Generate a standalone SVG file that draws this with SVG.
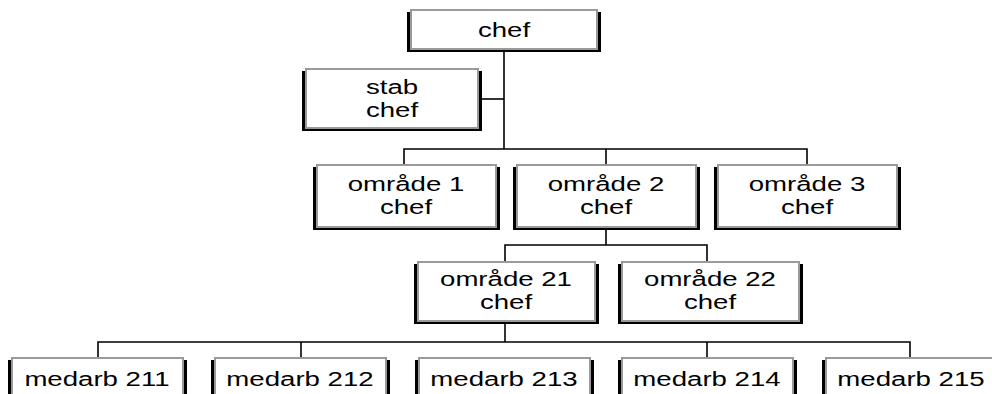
<svg xmlns="http://www.w3.org/2000/svg" width="992" height="394" viewBox="0 0 992 394">
  <style>
    .shadow { fill: #000; }
    .face { fill: #fff; stroke: #9a9a9a; stroke-width: 2; }
    .label { font-family: "Liberation Sans", Arial, sans-serif; font-size: 20px; fill: #000; text-anchor: middle; }
    .wire { fill: none; stroke: #000; stroke-width: 1.6; }
  </style>

  <!-- connectors -->
  <g id="connectors">
    <path class="wire" d="M504 50 V149"/>
    <path class="wire" d="M482 99 H504"/>
    <path class="wire" d="M404 165 V149 H807 V165"/>
    <path class="wire" d="M606 149 V165"/>
    <path class="wire" d="M606 227 V245"/>
    <path class="wire" d="M505 262 V245 H707 V262"/>
    <path class="wire" d="M505 322 V342"/>
    <path class="wire" d="M98 358 V342 H910 V358"/>
    <path class="wire" d="M301 342 V358"/>
    <path class="wire" d="M707 342 V358"/>
  </g>

  <g id="chef">
    <rect class="shadow" x="407" y="12" width="194" height="40"/>
    <rect class="face" x="411" y="10" width="186" height="39"/>
    <text class="label" transform="translate(504 37) scale(1.38 1)">chef</text>
  </g>

  <g id="stab-chef">
    <rect class="shadow" x="302" y="71" width="180" height="60"/>
    <rect class="face" x="306" y="69" width="172" height="59"/>
    <text class="label" transform="translate(392 94) scale(1.38 1)">stab</text>
    <text class="label" transform="translate(392 117) scale(1.38 1)">chef</text>
  </g>

  <g id="omrade-1">
    <rect class="shadow" x="313" y="167" width="187" height="63"/>
    <rect class="face" x="317" y="165" width="179" height="62"/>
    <text class="label" transform="translate(406 191) scale(1.38 1)">område 1</text>
    <text class="label" transform="translate(406 214) scale(1.38 1)">chef</text>
  </g>

  <g id="omrade-2">
    <rect class="shadow" x="513" y="167" width="187" height="63"/>
    <rect class="face" x="517" y="165" width="179" height="62"/>
    <text class="label" transform="translate(606 191) scale(1.38 1)">område 2</text>
    <text class="label" transform="translate(606 214) scale(1.38 1)">chef</text>
  </g>

  <g id="omrade-3">
    <rect class="shadow" x="714" y="167" width="187" height="63"/>
    <rect class="face" x="718" y="165" width="179" height="62"/>
    <text class="label" transform="translate(807 191) scale(1.38 1)">område 3</text>
    <text class="label" transform="translate(807 214) scale(1.38 1)">chef</text>
  </g>

  <g id="omrade-21">
    <rect class="shadow" x="414" y="264" width="185" height="60"/>
    <rect class="face" x="418" y="262" width="177" height="59"/>
    <text class="label" transform="translate(506 286) scale(1.38 1)">område 21</text>
    <text class="label" transform="translate(506 309) scale(1.38 1)">chef</text>
  </g>

  <g id="omrade-22">
    <rect class="shadow" x="618" y="264" width="185" height="60"/>
    <rect class="face" x="622" y="262" width="177" height="59"/>
    <text class="label" transform="translate(710 286) scale(1.38 1)">område 22</text>
    <text class="label" transform="translate(710 309) scale(1.38 1)">chef</text>
  </g>

  <g id="medarb-211">
    <rect class="shadow" x="8" y="360" width="179" height="40"/>
    <rect class="face" x="12" y="358" width="171" height="40"/>
    <text class="label" transform="translate(97 386) scale(1.38 1)">medarb 211</text>
  </g>

  <g id="medarb-212">
    <rect class="shadow" x="211" y="360" width="179" height="40"/>
    <rect class="face" x="215" y="358" width="171" height="40"/>
    <text class="label" transform="translate(300 386) scale(1.38 1)">medarb 212</text>
  </g>

  <g id="medarb-213">
    <rect class="shadow" x="415" y="360" width="179" height="40"/>
    <rect class="face" x="419" y="358" width="171" height="40"/>
    <text class="label" transform="translate(504 386) scale(1.38 1)">medarb 213</text>
  </g>

  <g id="medarb-214">
    <rect class="shadow" x="618" y="360" width="179" height="40"/>
    <rect class="face" x="622" y="358" width="171" height="40"/>
    <text class="label" transform="translate(707 386) scale(1.38 1)">medarb 214</text>
  </g>

  <g id="medarb-215">
    <rect class="shadow" x="822" y="360" width="179" height="40"/>
    <rect class="face" x="826" y="358" width="171" height="40"/>
    <text class="label" transform="translate(911 386) scale(1.38 1)">medarb 215</text>
  </g>
</svg>
